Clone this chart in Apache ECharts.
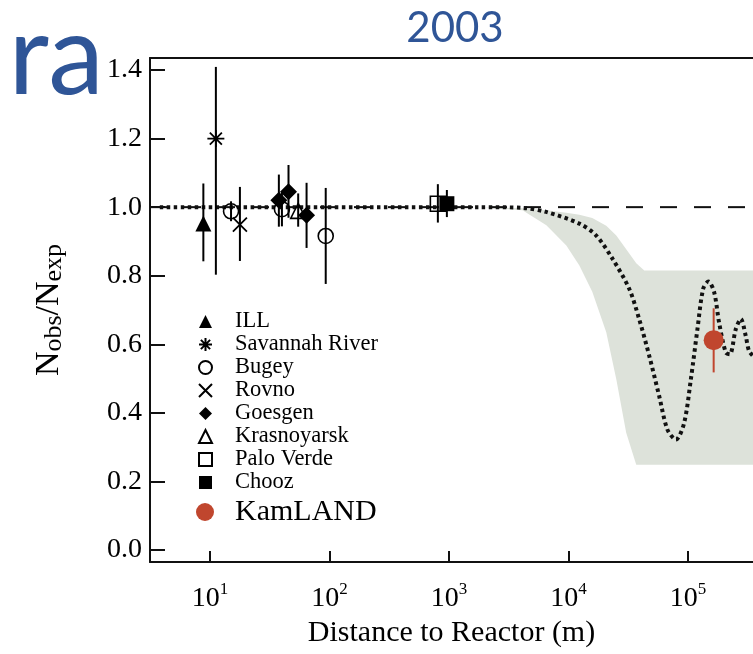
<!DOCTYPE html>
<html><head><meta charset="utf-8">
<script src="https://cdn.jsdelivr.net/npm/echarts@6/dist/echarts.min.js"></script>
<style>html,body{margin:0;padding:0;background:#fff}#c{width:753px;height:654px}</style>
</head><body><div id="c"></div><script>
// [distance (m), Nobs/Nexp, error low, error high]
const illPoints = [[8.8, 0.952, 0.842, 1.069]];
const savannahPoints = [[11.2, 1.200, 0.803, 1.409]];
const bugeyPoints = [[15.0, 0.988, 0.959, 1.017], [40.0, 0.994, 0.944, 1.044], [93.0, 0.916, 0.776, 1.056]];
const rovnoPoints = [[17.8, 0.949, 0.843, 1.059]];
const goesgenPoints = [[37.7, 1.020, 0.943, 1.095], [45.4, 1.045, 0.969, 1.123], [64.3, 0.976, 0.881, 1.071]];
const krasnoyarskPoints = [[54.7, 0.989, 0.943, 1.040]];
const paloVerdePoints = [[807, 1.010, 0.955, 1.067]];
const choozPoints = [[960, 1.010, 0.971, 1.050]];
const kamlandPoints = [[164000, 0.612, 0.518, 0.705]];

// oscillation curve, log10(distance) vs ratio
const curveLogDist = [0.58, 3.255, 3.615, 3.813, 4.091, 4.23, 4.369, 4.508, 4.591, 4.676, 4.759, 4.828, 4.899, 4.968, 5.024, 5.079, 5.127, 5.171, 5.219, 5.26, 5.316, 5.35, 5.40, 5.442, 5.483, 5.511, 5.56];
const curveRatio = [1.0, 1.0, 0.998, 0.986, 0.952, 0.918, 0.849, 0.762, 0.674, 0.566, 0.449, 0.351, 0.322, 0.371, 0.498, 0.644, 0.762, 0.783, 0.752, 0.664, 0.576, 0.571, 0.644, 0.674, 0.625, 0.581, 0.56];

// allowed band
const bandLogDist = [3.255, 3.615, 3.815, 3.982, 4.091, 4.199, 4.316, 4.40, 4.483, 4.567, 4.634, 5.544];
const bandUpper = [1.0, 0.997, 0.991, 0.984, 0.978, 0.968, 0.946, 0.917, 0.877, 0.836, 0.815, 0.815];
const bandLower = [1.0, 0.991, 0.947, 0.888, 0.830, 0.753, 0.635, 0.498, 0.342, 0.249, 0.249, 0.249];

// no-oscillation reference
const noOscLogDist = [0.498, 5.544];
const noOscRatio = [1.0, 1.0];

const xTickExponents = [1, 2, 3, 4, 5];
const yTickValues = [0, 0.2, 0.4, 0.6, 0.8, 1.0, 1.2, 1.4];
const xMin = 0.498, xMax = 5.544, yMin = -0.035, yMax = 1.435;

const serif = 'Liberation Serif';
const toXY = pts => pts.map(p => [Math.log10(p[0]), p[1]]);
const toErr = pts => pts.map(p => [Math.log10(p[0]), p[2], p[3]]);

const reactorSets = [illPoints, savannahPoints, bugeyPoints, rovnoPoints, goesgenPoints, krasnoyarskPoints, paloVerdePoints, choozPoints];
const allErr = [].concat(...reactorSets.map(toErr));

function errRender(color) {
  return function (params, api) {
    const x = api.value(0);
    const p1 = api.coord([x, api.value(1)]);
    const p2 = api.coord([x, api.value(2)]);
    return { type: 'line', shape: { x1: p1[0], y1: p1[1], x2: p2[0], y2: p2[1] },
      style: { stroke: color, lineWidth: 2 } };
  };
}

const hollow = { color: 'rgba(255,255,255,0)', borderColor: '#000', borderWidth: 1.6, opacity: 1 };
const filled = { color: '#000', opacity: 1 };
const strokeOnly = { color: 'rgba(255,255,255,0)', borderColor: '#000', borderWidth: 1.8, opacity: 1 };

function scatter(name, pts, symbol, size, style) {
  return { type: 'scatter', name, data: toXY(pts), symbol, symbolSize: size,
    itemStyle: style, z: 6, emphasis: { disabled: true } };
}

const chart = echarts.init(document.getElementById('c'), null, { renderer: 'canvas' });
chart.setOption({
  animation: false,
  backgroundColor: '#fff',
  title: { text: '2003', left: 450, top: 2, textAlign: 'center',
    textStyle: { fontFamily: 'Lato', fontSize: 42, fontWeight: 'normal', color: '#2F5597' } },
  graphic: [{ type: 'text', x: 104, y: 58,
    style: { text: 'ra', fontFamily: 'Lato', fontSize: 112, fill: '#2F5597', textAlign: 'right', textVerticalAlign: 'middle' } }],
  grid: { left: 150, top: 58, right: 0, bottom: 92 },
  legend: [{
    orient: 'vertical', left: 198, top: 310, padding: 0, itemGap: 0,
    itemWidth: 13, itemHeight: 13, selectedMode: false,
    data: ['ILL', 'Savannah River', 'Bugey', 'Rovno', 'Goesgen', 'Krasnoyarsk', 'Palo Verde', 'Chooz'],
    textStyle: { fontFamily: serif, fontSize: 22.5, color: '#000', lineHeight: 23, padding: [0, 0, 0, 18] }
  }, {
    orient: 'vertical', left: 196, top: 497, padding: 0, itemGap: 0,
    itemWidth: 18, itemHeight: 18, selectedMode: false,
    data: ['KamLAND'],
    textStyle: { fontFamily: serif, fontSize: 30, color: '#000', lineHeight: 30, padding: [0, 0, 0, 16] }
  }],
  xAxis: [{
    type: 'value', min: xMin, max: xMax, position: 'bottom',
    axisLine: { show: true, onZero: false, lineStyle: { color: '#111', width: 2 } },
    axisTick: { show: true, inside: true, length: 11, lineStyle: { color: '#111', width: 2 }, customValues: xTickExponents },
    axisLabel: { customValues: xTickExponents, margin: 19, color: '#000',
      formatter: v => '{b|10}{s|' + Math.round(v) + '}',
      rich: { b: { fontFamily: serif, fontSize: 28, color: '#000' },
              s: { fontFamily: serif, fontSize: 17, color: '#000', padding: [0, 0, 18, 0] } } },
    splitLine: { show: false },
    name: 'Distance to Reactor (m)', nameLocation: 'middle', nameGap: 56,
    nameTextStyle: { fontFamily: serif, fontSize: 30, color: '#000' }
  }, {
    type: 'value', min: xMin, max: xMax, position: 'top',
    axisLine: { show: true, onZero: false, lineStyle: { color: '#111', width: 2 } },
    axisTick: { show: false }, axisLabel: { show: false }, splitLine: { show: false }
  }],
  yAxis: {
    type: 'value', min: yMin, max: yMax,
    axisLine: { show: true, onZero: false, lineStyle: { color: '#111', width: 2 } },
    axisTick: { show: true, inside: true, length: 15, lineStyle: { color: '#111', width: 2 }, customValues: yTickValues },
    axisLabel: { customValues: yTickValues, margin: 8, color: '#000', fontFamily: serif, fontSize: 28,
      formatter: v => v.toFixed(1) },
    splitLine: { show: false },
    name: '{n|N}{s|obs}{n|/N}{s|exp}', nameLocation: 'middle', nameGap: 83,
    nameTextStyle: { rich: {
      n: { fontFamily: serif, fontSize: 34, color: '#000' },
      s: { fontFamily: serif, fontSize: 26, color: '#000', padding: [10, 0, 0, 0] } } }
  },
  series: [
    { type: 'custom', name: 'band', z: 1, silent: true, data: [[bandLogDist[0], bandUpper[0]]],
      renderItem: function (params, api) {
        const pts = [];
        for (let i = 0; i < bandLogDist.length; i++) pts.push(api.coord([bandLogDist[i], bandUpper[i]]));
        for (let i = bandLogDist.length - 1; i >= 0; i--) pts.push(api.coord([bandLogDist[i], bandLower[i]]));
        return { type: 'polygon', shape: { points: pts }, style: { fill: '#DDE2DA', stroke: null } };
      } },
    { type: 'line', name: 'noosc', z: 2, silent: true, symbol: 'none', showSymbol: false,
      data: noOscLogDist.map((x, i) => [x, noOscRatio[i]]),
      lineStyle: { color: '#111', width: 2, type: [17, 17] } },
    { type: 'line', name: 'osc', z: 3, silent: true, symbol: 'none', showSymbol: false, smooth: 0.3,
      data: curveLogDist.map((x, i) => [x, curveRatio[i]]),
      lineStyle: { color: '#111', width: 4, type: [3.5, 3.5], cap: 'butt' } },
    { type: 'custom', name: 'errs', z: 4, silent: true, data: allErr, encode: { x: 0, y: [1, 2] },
      renderItem: errRender('#000') },
    { type: 'custom', name: 'errk', z: 4, silent: true, data: toErr(kamlandPoints), encode: { x: 0, y: [1, 2] },
      renderItem: errRender('#C0462E') },
    scatter('ILL', illPoints, 'triangle', 16, filled),
    scatter('Savannah River', savannahPoints, 'path://M5,0L5,10M0,5L10,5M1.46,1.46L8.54,8.54M8.54,1.46L1.46,8.54', 17, strokeOnly),
    scatter('Bugey', bugeyPoints, 'circle', 15, hollow),
    scatter('Rovno', rovnoPoints, 'path://M0,0L10,10M10,0L0,10', 14, strokeOnly),
    scatter('Goesgen', goesgenPoints, 'diamond', 17, filled),
    scatter('Krasnoyarsk', krasnoyarskPoints, 'triangle', 15, hollow),
    scatter('Palo Verde', paloVerdePoints, 'rect', 15, hollow),
    scatter('Chooz', choozPoints, 'rect', 15, filled),
    scatter('KamLAND', kamlandPoints, 'circle', 20, { color: '#C0462E', opacity: 1 })
  ]
});
</script></body></html>
